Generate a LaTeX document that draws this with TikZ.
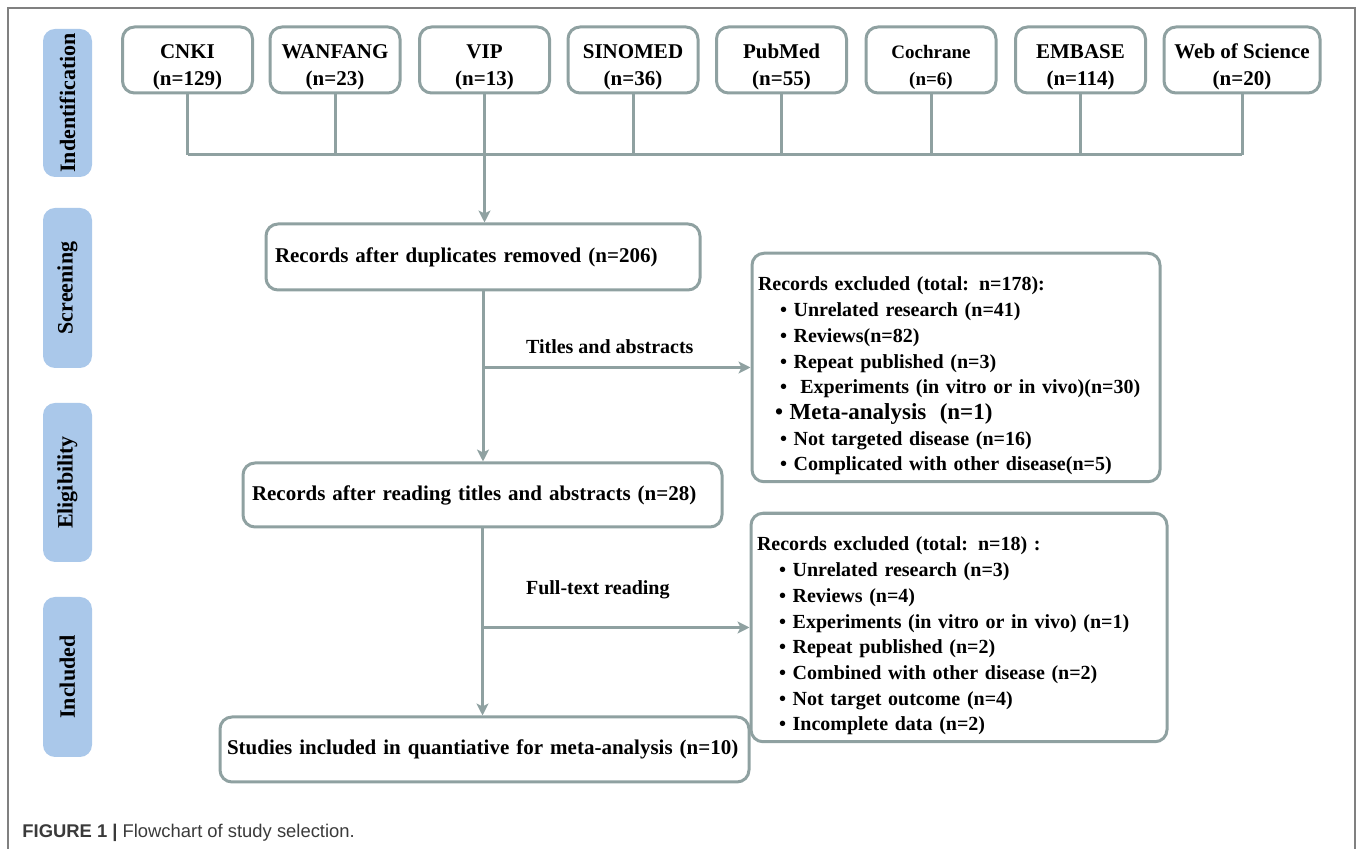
\documentclass[tikz,border=0pt]{standalone}
\usepackage{fontspec}
\setmainfont{Liberation Serif}
\newfontfamily\capfont{Liberation Sans}
\usetikzlibrary{arrows.meta}
\definecolor{linegray}{HTML}{8FA1A1}
\definecolor{stageblue}{HTML}{AAC8EA}
\definecolor{framegray}{HTML}{808080}
\definecolor{capgray}{HTML}{3A3A3A}
\newcommand{\dbtext}[2]{\rule{0pt}{14pt}#1\\(n=#2)}

\begin{document}
\begin{tikzpicture}[x=0.5pt,y=-0.5pt,
  stage/.style={fill=stageblue, rounded corners=6pt, rotate=90, minimum height=24.5pt, inner sep=0pt, font=\fontsize{11}{12}\selectfont\bfseries},
  srcbox/.style={draw=linegray, line width=1.5pt, rounded corners=6pt, minimum width=65pt, minimum height=33pt, inner sep=1pt, align=center, font=\fontsize{10.5}{13.5}\selectfont\bfseries},
  flowbox/.style={draw=linegray, line width=1.5pt, rounded corners=6pt, align=left, inner xsep=4.5pt, font=\fontsize{10.5}{12}\selectfont\bfseries},
  exbox/.style={draw=linegray, line width=1.5pt, rounded corners=6pt, align=left, inner xsep=3pt, minimum height=112.5pt, font=\fontsize{10}{12.85}\selectfont\bfseries, execute at begin node={\rule{0pt}{15.5pt}}},
  conn/.style={draw=linegray, line width=1.5pt},
  arr/.style={conn, -{Stealth[length=6pt,width=6pt,inset=1.5pt]}},
  lbl/.style={anchor=west, font=\fontsize{10}{12}\selectfont\bfseries}]
\useasboundingbox (0,0) rectangle (1357,849);

%Draw frame
\draw[framegray, line width=1pt] (8,849) -- (8,8) -- (1355,8) -- (1355,849);

%Draw stage labels
\node[stage, minimum width=74pt] (ident) at (67.5,103) {Indentification};
\node[stage, minimum width=80pt] (screen) at (67.5,288) {Screening};
\node[stage, minimum width=79.5pt] (elig) at (67.5,482.5) {Eligibility};
\node[stage, minimum width=80pt] (incl) at (67.5,677) {Included};

%Draw database boxes
\node[srcbox] (cnki) at (187.5,60) {\dbtext{CNKI}{129}};
\node[srcbox] (wanfang) at (335,60) {\dbtext{WANFANG}{23}};
\node[srcbox] (vip) at (484.5,60) {\dbtext{VIP}{13}};
\node[srcbox] (sinomed) at (633,60) {\dbtext{SINOMED}{36}};
\node[srcbox] (pubmed) at (781.5,60) {\dbtext{PubMed}{55}};
\node[srcbox, font=\fontsize{9.5}{13.5}\selectfont\bfseries] (cochrane) at (931,60) {\dbtext{Cochrane}{6}};
\node[srcbox] (embase) at (1080.5,60) {\dbtext{EMBASE}{114}};
\node[srcbox, minimum width=78pt] (wos) at (1242,60) {\dbtext{Web of Science}{20}};

%Draw joining line
\coordinate (bus) at (0,155);
\draw[conn] (cnki.south) -- (cnki.south |- bus);
\draw[conn] (wanfang.south) -- (wanfang.south |- bus);
\draw[conn] (vip.south) -- (vip.south |- bus);
\draw[conn] (sinomed.south) -- (sinomed.south |- bus);
\draw[conn] (pubmed.south) -- (pubmed.south |- bus);
\draw[conn] (cochrane.south) -- (cochrane.south |- bus);
\draw[conn] (embase.south) -- (embase.south |- bus);
\draw[conn] (wos.south) -- (wos.south |- bus);
\draw[conn] (cnki.south |- bus) -- (wos.south |- bus);

%Draw main boxes
\node[flowbox, text width=208pt, minimum height=33pt] (dup) at (483,257) {Records after duplicates removed (n=206)};
\node[flowbox, text width=230.5pt, minimum height=32pt] (read) at (482.5,495) {Records after reading titles and abstracts (n=28)};
\node[flowbox, inner xsep=3.5pt, text width=257.5pt, minimum height=32.5pt] (final) at (484.5,749.5) {Studies included in quantiative for meta-analysis (n=10)};

%Draw exclusion boxes
\node[exbox, text width=198pt] (excl1) at (956,367.5) {Records excluded (total: n=178):\\
\hspace*{11pt}\textbullet\ Unrelated research (n=41)\\
\hspace*{11pt}\textbullet\ Reviews(n=82)\\
\hspace*{11pt}\textbullet\ Repeat published (n=3)\\
\hspace*{11pt}\textbullet\ \ Experiments (in vitro or in vivo)(n=30)\\
\hspace*{8.5pt}{\fontsize{11.5}{12.85}\selectfont\textbullet\ Meta-analysis\ \ (n=1)}\\
\hspace*{11pt}\textbullet\ Not targeted disease (n=16)\\
\hspace*{11pt}\textbullet\ Complicated with other disease(n=5)};
\node[exbox, text width=202pt] (excl2) at (959,627.5) {Records excluded (total: n=18) :\\
\hspace*{11pt}\textbullet\ Unrelated research (n=3)\\
\hspace*{11pt}\textbullet\ Reviews (n=4)\\
\hspace*{11pt}\textbullet\ Experiments (in vitro or in vivo) (n=1)\\
\hspace*{11pt}\textbullet\ Repeat published (n=2)\\
\hspace*{11pt}\textbullet\ Combined with other disease (n=2)\\
\hspace*{11pt}\textbullet\ Not target outcome (n=4)\\
\hspace*{11pt}\textbullet\ Incomplete data (n=2)};

%Draw arrows
\draw[arr] (vip.south |- bus) -- (vip.south |- dup.north);
\draw[arr] (dup.south) -- (dup.south |- read.north);
\draw[arr] (read.south) -- (read.south |- final.north);
\draw[arr] (dup.south |- excl1.west) -- (excl1.west);
\draw[arr] (read.south |- excl2.west) -- (excl2.west);

%Draw arrow labels
\node[lbl] (tlabs) at (519,347) {Titles and abstracts};
\node[lbl] (fulltext) at (519,590) {Full-text reading};

%Draw caption
\node[anchor=west, inner sep=0pt, text=capgray, font=\capfont\fontsize{9.2}{11}\selectfont] (caption) at (22,833) {\textbf{FIGURE 1 |} Flowchart of study selection.};
\end{tikzpicture}
\end{document}
